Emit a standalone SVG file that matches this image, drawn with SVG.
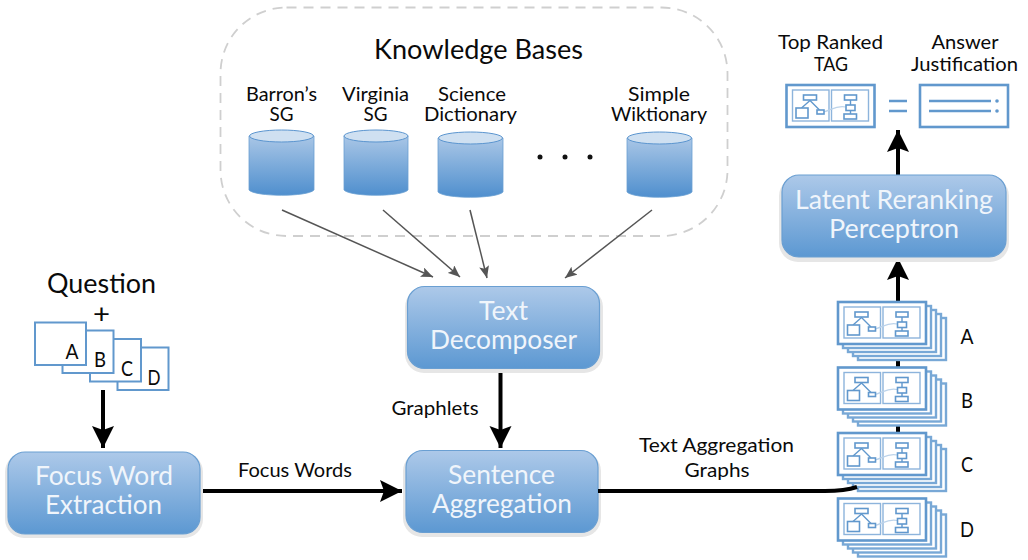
<svg xmlns="http://www.w3.org/2000/svg" xmlns:xlink="http://www.w3.org/1999/xlink" width="1028" height="560" viewBox="0 0 1028 560">
<style>
text{font-family:Lato,"Open Sans","Liberation Sans",sans-serif;fill:#0a0a0a;text-anchor:middle}
.t25{font-size:27px}.t18{font-size:20px}.t20{font-size:21px}
.w{fill:#f0f5fb;font-size:26.500px}
.box{fill:url(#ng);stroke:#6a9fd2;stroke-width:1.200}
.sh{fill:#e6e6e6}
.cyl{fill:url(#cg);stroke:#6a9fd2;stroke-width:.8}
.cap{fill:#cfe0f1;stroke:#5b95cf;stroke-width:1}
.card{fill:#fff;stroke:#6198cd;stroke-width:2}
.heavy{fill:#fff;stroke:#6198cd;stroke-width:2.600}
.back{fill:#fff;stroke:#78a8d6;stroke-width:2.400}
.in{fill:#fff;stroke:#6198cd;stroke-width:1.600}
.ln{fill:none;stroke:#6198cd;stroke-width:1.400}
.pan{fill:none;stroke:#8db4dc;stroke-width:1.400}
.pale{fill:none;stroke:#bcd3ea;stroke-width:1.200}
.eq{fill:none;stroke:#6198cd;stroke-width:2.500}
.blk{fill:none;stroke:#000;stroke-width:4}
.gr{fill:none;stroke:#555;stroke-width:1.500}
</style>
<defs>
<linearGradient id="ng" x1="0" y1="0" x2="0" y2="1"><stop offset="0" stop-color="#adc9e9"/><stop offset="1" stop-color="#5c98d2"/></linearGradient>
<linearGradient id="cg" x1="0" y1="0" x2="0" y2="1"><stop offset="0" stop-color="#a9c6e6"/><stop offset="1" stop-color="#4f8fce"/></linearGradient>
<marker id="big" viewBox="0 0 22 26" markerUnits="userSpaceOnUse" markerWidth="22" markerHeight="26" refX="22" refY="13" orient="auto"><path d="M0 2L22 13L0 24L4 13Z" fill="#000"/></marker>
<marker id="small" viewBox="0 0 12 10" markerUnits="userSpaceOnUse" markerWidth="12" markerHeight="10" refX="12" refY="5" orient="auto"><path d="M0 0L12 5L0 10L2.500 5Z" fill="#555"/></marker>
<rect id="c0" class="back" width="88" height="42"/>
<g id="tag">
<rect class="heavy" x="0" y="0" width="88" height="42"/>
<rect x="6" y="5" width="36.500" height="31" class="pan"/>
<rect x="45" y="5" width="37" height="31" class="pan"/>
<path class="ln" d="M23.500 15.500L15 23M23.500 15.500L33 25M64 15V29"/>
<path class="pale" d="M37 27C45 25 50 20 59 22"/>
<rect class="in" x="17" y="10" width="13" height="5"/>
<rect class="in" x="9.500" y="23" width="12" height="10"/>
<rect class="in" x="30.500" y="25" width="7" height="4"/>
<rect class="in" x="58" y="10" width="12" height="5"/>
<rect class="in" x="59.500" y="20" width="9" height="5.500"/>
<rect class="in" x="57.500" y="29" width="12.500" height="5"/>
</g>
<g id="stack">
<use xlink:href="#c0" x="20" y="16"/>
<use xlink:href="#c0" x="15" y="12"/>
<use xlink:href="#c0" x="10" y="8"/>
<use xlink:href="#c0" x="5" y="4"/>
<use xlink:href="#tag"/>
</g>
</defs>

<rect x="220.500" y="7.500" width="507" height="228.500" rx="66" fill="none" stroke="#cfcfcf" stroke-width="1.800" stroke-dasharray="10 7"/>
<text class="t25" x="478.500" y="59" textLength="209" lengthAdjust="spacingAndGlyphs">Knowledge Bases</text>

<g id="connectors">
<path class="gr" marker-end="url(#small)" d="M282 210L433 277"/>
<path class="gr" marker-end="url(#small)" d="M383 210L460 277"/>
<path class="gr" marker-end="url(#small)" d="M470 210L487 278"/>
<path class="gr" marker-end="url(#small)" d="M652 210L565 278"/>
<path class="blk" marker-end="url(#big)" d="M103 390V448"/>
<path class="blk" marker-end="url(#big)" d="M203 491H402"/>
<path class="blk" marker-end="url(#big)" d="M500.500 368V448"/>
<path class="blk" d="M898 490V300"/>
<path class="blk" marker-end="url(#big)" d="M898 305V258"/>
<path class="blk" marker-end="url(#big)" d="M898 175V130"/>
</g>

<g id="kb-barrons">
<path class="cyl" d="M249 136V190C255 197 308 197 314 190V136Z"/>
<ellipse class="cap" cx="281.500" cy="136" rx="32" ry="6"/>
<text class="t18" x="281.500" y="101" textLength="71" lengthAdjust="spacingAndGlyphs">Barron’s</text>
<text class="t18" x="281.500" y="121" textLength="24" lengthAdjust="spacingAndGlyphs">SG</text>
</g>
<g id="kb-virginia">
<path class="cyl" d="M344 136V190C350 197 402 197 408 190V136Z"/>
<ellipse class="cap" cx="376" cy="136" rx="32" ry="6"/>
<text class="t18" x="375.500" y="101" textLength="67" lengthAdjust="spacingAndGlyphs">Virginia</text>
<text class="t18" x="375.500" y="121" textLength="24" lengthAdjust="spacingAndGlyphs">SG</text>
</g>
<g id="kb-science">
<path class="cyl" d="M438 138V192C444 199 497 199 503 192V138Z"/>
<ellipse class="cap" cx="470.500" cy="138" rx="32" ry="6"/>
<text class="t18" x="472" y="101" textLength="68" lengthAdjust="spacingAndGlyphs">Science</text>
<text class="t18" x="470.500" y="121" textLength="93" lengthAdjust="spacingAndGlyphs">Dictionary</text>
</g>
<g id="kb-dots" fill="#111">
<circle cx="540" cy="157" r="2.500"/><circle cx="565" cy="157" r="2.500"/><circle cx="590" cy="157" r="2.500"/>
</g>
<g id="kb-wiktionary">
<path class="cyl" d="M627 138V192C633 199 686 199 692 192V138Z"/>
<ellipse class="cap" cx="659.500" cy="138" rx="32" ry="6"/>
<text class="t18" x="659" y="101" textLength="62" lengthAdjust="spacingAndGlyphs">Simple</text>
<text class="t18" x="659" y="121" textLength="96" lengthAdjust="spacingAndGlyphs">Wiktionary</text>
</g>

<g id="question">
<text class="t25" x="101.500" y="293" textLength="109" lengthAdjust="spacingAndGlyphs">Question</text>
<text class="t25" x="101.500" y="323" textLength="17" lengthAdjust="spacingAndGlyphs">+</text>
<rect class="card" x="117.500" y="347.500" width="51" height="42.500"/>
<text class="t20" x="154" y="385" textLength="13" lengthAdjust="spacingAndGlyphs">D</text>
<rect class="card" x="90" y="339" width="51" height="42.500"/>
<text class="t20" x="127" y="376" textLength="12" lengthAdjust="spacingAndGlyphs">C</text>
<rect class="card" x="62.500" y="330.500" width="51" height="42.500"/>
<text class="t20" x="100" y="367" textLength="12" lengthAdjust="spacingAndGlyphs">B</text>
<rect class="card" x="35" y="322.500" width="51" height="42.500"/>
<text class="t20" x="72" y="359" textLength="13" lengthAdjust="spacingAndGlyphs">A</text>
</g>

<g id="focus-word">
<rect class="sh" x="5" y="453" width="198" height="85" rx="19"/>
<rect class="box" x="8" y="452" width="192" height="82" rx="17"/>
<text class="w" x="104" y="485" textLength="138" lengthAdjust="spacingAndGlyphs">Focus Word</text>
<text class="w" x="103.500" y="514" textLength="117" lengthAdjust="spacingAndGlyphs">Extraction</text>
</g>
<g id="text-decomposer">
<rect class="sh" x="405" y="288" width="198" height="85" rx="19"/>
<rect class="box" x="407.500" y="286.500" width="192" height="82" rx="17"/>
<text class="w" x="503.500" y="320" textLength="49" lengthAdjust="spacingAndGlyphs">Text</text>
<text class="w" x="503.500" y="349" textLength="147" lengthAdjust="spacingAndGlyphs">Decomposer</text>
</g>
<g id="sentence-aggregation">
<rect class="sh" x="403" y="452" width="198" height="85" rx="19"/>
<rect class="box" x="406" y="450.500" width="192" height="82" rx="17"/>
<text class="w" x="501.500" y="484" textLength="107" lengthAdjust="spacingAndGlyphs">Sentence</text>
<text class="w" x="502" y="513" textLength="140" lengthAdjust="spacingAndGlyphs">Aggregation</text>
</g>
<g id="latent-reranking">
<rect class="sh" x="779" y="177" width="230" height="85" rx="19"/>
<rect class="box" x="782" y="175" width="224" height="82" rx="17"/>
<text class="w" x="894" y="209" textLength="198" lengthAdjust="spacingAndGlyphs">Latent Reranking</text>
<text class="w" x="894" y="238" textLength="130" lengthAdjust="spacingAndGlyphs">Perceptron</text>
</g>

<g id="label-graphlets"><text class="t18" x="435" y="415" textLength="87" lengthAdjust="spacingAndGlyphs">Graphlets</text></g>
<g id="label-focus-words"><text class="t18" x="295" y="477" textLength="114" lengthAdjust="spacingAndGlyphs">Focus Words</text></g>
<g id="label-tag">
<text class="t18" x="716.500" y="452" textLength="155" lengthAdjust="spacingAndGlyphs">Text Aggregation</text>
<text class="t18" x="717" y="477" textLength="65" lengthAdjust="spacingAndGlyphs">Graphs</text>
</g>

<g id="stack-a"><use xlink:href="#stack" x="838" y="302"/><text class="t20" x="967" y="344" textLength="13" lengthAdjust="spacingAndGlyphs">A</text></g>
<g id="stack-b"><use xlink:href="#stack" x="838" y="367.500"/><text class="t20" x="967" y="408" textLength="12" lengthAdjust="spacingAndGlyphs">B</text></g>
<g id="stack-c"><use xlink:href="#stack" x="838" y="433"/><text class="t20" x="967" y="472" textLength="12" lengthAdjust="spacingAndGlyphs">C</text></g>
<g id="stack-d"><use xlink:href="#stack" x="838" y="498.500"/><text class="t20" x="967" y="537" textLength="14" lengthAdjust="spacingAndGlyphs">D</text></g>

<g id="connectors-over">
<path class="blk" d="M598 491H825C840 491 848 490 857 487"/>
</g>

<g id="top-ranked">
<text class="t18" x="830.500" y="49" textLength="105" lengthAdjust="spacingAndGlyphs">Top Ranked</text>
<text class="t18" x="831" y="71" textLength="34" lengthAdjust="spacingAndGlyphs">TAG</text>
<use xlink:href="#tag" x="786.500" y="85"/>
</g>
<g id="equals"><path class="eq" d="M889 101H907M889 111H907"/></g>
<g id="answer-justification">
<text class="t18" x="965" y="49" textLength="67" lengthAdjust="spacingAndGlyphs">Answer</text>
<text class="t18" x="964.500" y="71" textLength="107" lengthAdjust="spacingAndGlyphs">Justification</text>
<rect class="heavy" x="920" y="85" width="88" height="42"/>
<path class="eq" d="M929 101H991M929 111H991"/>
<circle cx="997" cy="101" r="1.800" fill="#6198cd"/><circle cx="997" cy="111" r="1.800" fill="#6198cd"/>
</g>
</svg>
